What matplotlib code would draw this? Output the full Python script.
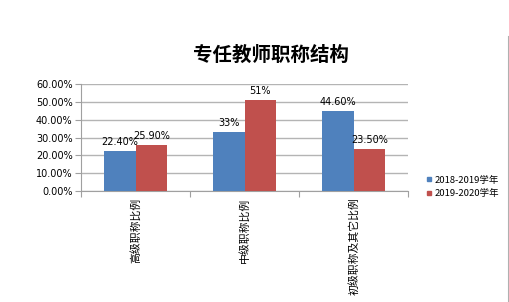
import matplotlib
matplotlib.use("Agg")
import matplotlib.pyplot as plt
import numpy as np
from matplotlib.lines import Line2D

plt.rcParams['font.family'] = ['Noto Sans CJK SC', 'DejaVu Sans']

title = "专任教师职称结构"
categories = ["高级职称比例", "中级职称比例", "初级职称及其它比例"]
series_names = ["2018-2019学年", "2019-2020学年"]
values_2018 = [22.40, 33.0, 44.60]
values_2019 = [25.90, 51.0, 23.50]
labels_2018 = ["22.40%", "33%", "44.60%"]
labels_2019 = ["25.90%", "51%", "23.50%"]
yticks = [0, 10, 20, 30, 40, 50, 60]
ytick_labels = ["0.00%", "10.00%", "20.00%", "30.00%", "40.00%", "50.00%", "60.00%"]
colors = ["#4F81BD", "#C0504D"]

fig = plt.figure(figsize=(5.10, 3.02), dpi=100)
ax = fig.add_axes([81/510, 1-191/302, (408-81)/510, (191-84)/302])

x = np.arange(len(categories))
w = 0.29
b1 = ax.bar(x - w/2, values_2018, w, color=colors[0], zorder=3)
b2 = ax.bar(x + w/2, values_2019, w, color=colors[1], zorder=3)

for bars, labs in ((b1, labels_2018), (b2, labels_2019)):
    for r, lab in zip(bars, labs):
        ax.annotate(lab, (r.get_x() + r.get_width()/2, r.get_height()),
                    xytext=(0, 3), textcoords="offset points",
                    ha="center", va="bottom", fontsize=7, family="DejaVu Sans")

ax.set_xlim(-0.5, len(categories) - 0.5)
ax.set_ylim(0, 60)
ax.set_yticks(yticks)
ax.set_yticklabels(ytick_labels, fontsize=7, family="DejaVu Sans")
ax.yaxis.grid(True, color="#b4b4b4", linewidth=1, zorder=0)
ax.set_axisbelow(True)

ax.set_xticks(np.arange(len(categories) + 1) - 0.5)
ax.set_xticklabels([])
ax.tick_params(axis="x", direction="out", length=4, color="#a0a0a0")
ax.tick_params(axis="y", direction="out", length=4, color="#a0a0a0", pad=2)
for i, c in enumerate(categories):
    ax.text(i, -0.06, c, transform=ax.get_xaxis_transform(), rotation=90,
            ha="center", va="top", fontsize=7.8)

for s in ["top", "right"]:
    ax.spines[s].set_visible(False)
ax.spines["left"].set_color("#a0a0a0")
ax.spines["bottom"].set_color("#a0a0a0")

fig.text(271/510, 1-55/302, title, ha="center", va="center",
         fontsize=14, fontweight="bold")

handles = [Line2D([], [], marker="s", linestyle="none", markersize=3.5,
                  color=c) for c in colors]
fig.legend(handles, series_names, loc="center left",
           bbox_to_anchor=(421/510, 1-187/302), frameon=False,
           fontsize=6.8, handletextpad=0.1, handlelength=0.8,
           labelspacing=0.5, borderpad=0)

fig.add_artist(Line2D([509/510, 509/510], [0, 1-37/302],
                      transform=fig.transFigure, color="#b0b0b0", linewidth=1.5))

fig.savefig("out.png", dpi=100)
